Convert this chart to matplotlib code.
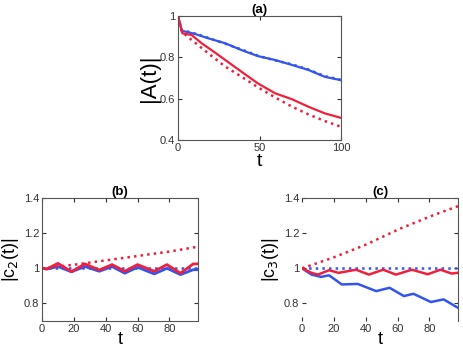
import matplotlib
matplotlib.use("Agg")
import matplotlib.pyplot as plt

plt.rcParams['font.family'] = ['Liberation Sans', 'DejaVu Sans']

azul = '#3355ee'
rojo = '#f0203c'
gris = '#333333'

# (a) |A(t)|
t_a_azul = [0, 2.3, 10.5, 18.6, 29, 39, 49, 59.6, 70, 80, 90, 99.6]
A_azul = [1.0, 0.929, 0.913, 0.892, 0.868, 0.835, 0.806, 0.787, 0.763, 0.739, 0.706, 0.69]
A_azul_pt = [1.0, 0.932, 0.915, 0.894, 0.866, 0.838, 0.808, 0.785, 0.766, 0.741, 0.709, 0.692]
t_a_rojo = [0, 2.7, 8.4, 14.5, 22.7, 29, 39, 49, 59.6, 70, 80, 90, 99.6]
A_rojo = [1.0, 0.916, 0.908, 0.868, 0.823, 0.787, 0.73, 0.674, 0.626, 0.597, 0.561, 0.529, 0.508]
t_a_rpt = [0, 2.3, 8.4, 18.6, 29, 39, 49, 59.6, 70, 80, 90, 99.6]
A_rojo_pt = [1.0, 0.924, 0.884, 0.819, 0.755, 0.706, 0.655, 0.606, 0.561, 0.524, 0.492, 0.465]

# (b) |c2(t)|
t_b = [0, 3, 10, 18.5, 27, 36, 44, 52, 60, 70.5, 78.5, 87, 95, 98]
c2_azul = [1.0, 0.996, 1.01, 0.98, 1.01, 0.983, 1.01, 0.972, 1.006, 0.968, 1.0, 0.964, 0.992, 0.992]
c2_rojo = [1.0, 0.996, 1.028, 0.981, 1.025, 0.99, 1.021, 0.983, 1.021, 0.983, 1.021, 0.972, 1.025, 1.025]
t_b_pt = [0, 20, 40, 60, 80, 98]
c2_rojo_pt = [1.0, 1.02, 1.045, 1.07, 1.095, 1.123]
c2_azul_pt = [1.0, 1.0, 1.0, 1.0, 1.0, 1.0]

# (c) |c3(t)|
t_c_rojo = [0, 6, 10, 17, 23, 34, 42, 51, 59, 69, 79, 87, 94, 100]
c3_rojo = [1.0, 0.974, 0.964, 0.989, 0.974, 0.992, 0.964, 0.992, 0.964, 0.992, 0.966, 0.992, 0.97, 0.977]
t_c_azul = [0, 6, 12, 17, 25, 35, 46.6, 55, 64, 70, 81, 89, 98, 100]
c3_azul = [1.0, 0.964, 0.951, 0.96, 0.908, 0.911, 0.87, 0.889, 0.842, 0.855, 0.808, 0.823, 0.775, 0.775]
t_c_pt = [0, 18.8, 40, 61.5, 83, 100]
c3_rojo_pt = [1.0, 1.058, 1.134, 1.225, 1.304, 1.36]
c3_azul_pt = [1.0, 1.0, 1.0, 1.0, 1.0, 1.0]

fig = plt.figure(figsize=(4.63, 3.5), dpi=100)
W, H = 463, 350


def ejes(x0, y0, x1, y1):
    ax = fig.add_axes([x0 / W, 1 - y1 / H, (x1 - x0) / W, (y1 - y0) / H])
    ax.tick_params(direction='in', length=3, labelsize=8, colors=gris,
                   top=True, right=True, pad=2)
    for s in ax.spines.values():
        s.set_color('#555555')
        s.set_linewidth(0.8)
    return ax


# panel (a)
ax = ejes(178, 16, 341, 140)
ax.plot(t_a_azul, A_azul, color=azul, lw=1.6)
ax.plot(t_a_azul, A_azul_pt, color=azul, lw=1.8, ls=':')
ax.plot(t_a_rojo, A_rojo, color=rojo, lw=1.6)
ax.plot(t_a_rpt, A_rojo_pt, color=rojo, lw=1.8, ls=':')
ax.set_xlim(0, 100)
ax.set_ylim(0.4, 1)
ax.set_xticks([0, 50, 100])
ax.set_yticks([0.4, 0.6, 0.8, 1])
ax.set_yticklabels(['0.4', '0.6', '0.8', '1'])
ax.set_title('(a)', fontsize=9.5, fontweight='bold', pad=2)
ax.set_ylabel('|A(t)|', fontsize=16, labelpad=0)
ax.set_xlabel('t', fontsize=14, labelpad=0)

# panel (b)
ax = ejes(42, 198, 198, 321)
ax.plot(t_b_pt, c2_azul_pt, color=azul, lw=1.8, ls=':')
ax.plot(t_b, c2_azul, color=azul, lw=2)
ax.plot(t_b, c2_rojo, color=rojo, lw=2)
ax.plot(t_b_pt, c2_rojo_pt, color=rojo, lw=1.8, ls=':')
ax.set_xlim(0, 98)
ax.set_ylim(0.7, 1.4)
ax.set_xticks([0, 20, 40, 60, 80])
ax.set_yticks([0.8, 1, 1.2, 1.4])
ax.set_yticklabels(['0.8', '1', '1.2', '1.4'])
ax.set_title('(b)', fontsize=9.5, fontweight='bold', pad=2)
ax.set_ylabel('|c$_2$(t)|', fontsize=13, labelpad=2)
ax.set_xlabel('t', fontsize=13, labelpad=-2)

# panel (c)
ax = ejes(302, 198, 458, 321)
ax.plot(t_c_pt, c3_azul_pt, color=azul, lw=1.8, ls=':')
ax.plot(t_c_azul, c3_azul, color=azul, lw=1.8)
ax.plot(t_c_rojo, c3_rojo, color=rojo, lw=1.8)
ax.plot(t_c_pt, c3_rojo_pt, color=rojo, lw=1.8, ls=':')
ax.set_xlim(0, 98)
ax.set_ylim(0.7, 1.4)
ax.set_xticks([0, 20, 40, 60, 80])
ax.set_yticks([0.8, 1, 1.2, 1.4])
ax.set_yticklabels(['0.8', '1', '1.2', '1.4'])
ax.spines['left'].set_visible(False)
ax.spines['bottom'].set_visible(False)
ax.set_title('(c)', fontsize=9.5, fontweight='bold', pad=2)
ax.set_ylabel('|c$_3$(t)|', fontsize=13, labelpad=2)
ax.set_xlabel('t', fontsize=13, labelpad=-2)

fig.savefig('out.png', dpi=100)
